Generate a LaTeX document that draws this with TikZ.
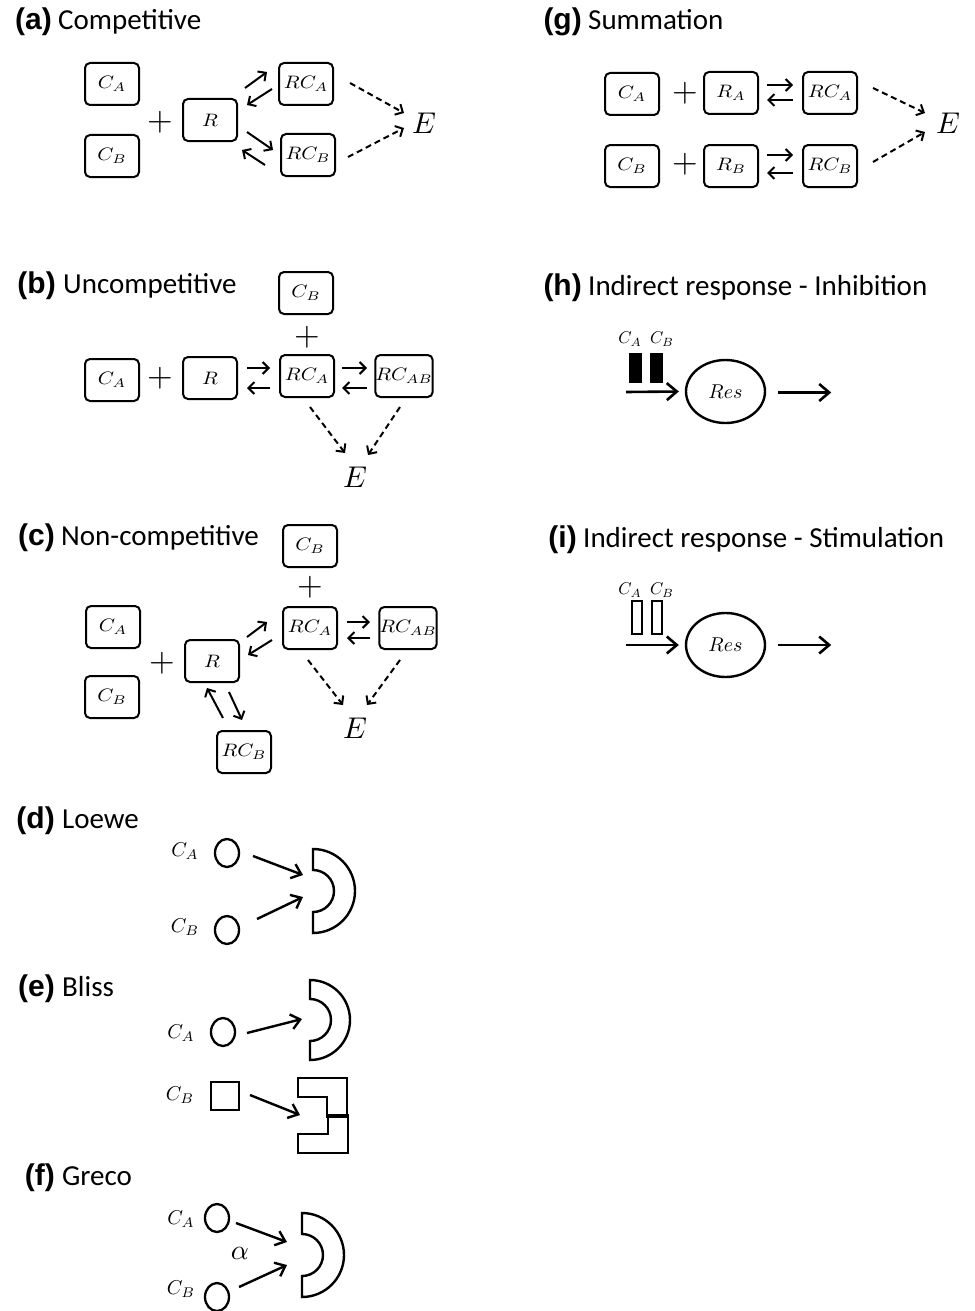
\documentclass[tikz,border=0pt]{standalone}
\usepackage{fontspec}
\setmainfont{Carlito}
\newfontfamily\labfont{Liberation Sans}
\usetikzlibrary{arrows.meta,calc,shapes.geometric}
\newcommand\bx[1]{\scalebox{2.07}[1.8]{$#1$}}
\newcommand\mth[2]{\scalebox{#1}{$#2$}}
\begin{document}
\begin{tikzpicture}[x=1pt,y=-1pt,
  box/.style={draw,rounded corners=5pt,line width=2pt,minimum width=54pt,minimum height=42pt,inner sep=0pt},
  ttl/.style={anchor=base west,inner sep=0pt,font=\fontsize{29}{29}\selectfont},
  lbl/.style={anchor=base east,inner sep=0pt,font=\fontsize{30}{30}\selectfont\labfont\bfseries},
  pl/.style={inner sep=0pt},
  ee/.style={inner sep=0pt},
  ar/.style={line width=2pt,-{Straight Barb[length=6pt,width=12pt]}},
  dar/.style={ar,dash pattern=on 6pt off 4pt},
  arB/.style={line width=2.4pt,-{Straight Barb[length=9pt,width=15pt]}},
  arC/.style={line width=2.6pt,-{Straight Barb[length=10pt,width=17pt]}},
  shp/.style={line width=2.4pt},
  circ/.style={draw,ellipse,minimum width=24pt,minimum height=28pt,inner sep=0pt,line width=2.3pt},
  cl/.style={inner sep=0pt},
  sl/.style={inner sep=0pt},
]
\useasboundingbox (0,0) rectangle (974,1311);

% ---------- titles ----------
\node[ttl] (ta) at (58,30) {Competitive};
\node[lbl] (la) at (52,30) {(a)};
\node[ttl] (tb) at (63,293) {Uncompetitive};
\node[lbl] (lb) at (56,293) {(b)};
\node[ttl] (tc) at (61,545) {Non-competitive};
\node[lbl] (lc) at (55,545) {(c)};
\node[ttl] (td) at (62,828) {Loewe};
\node[lbl] (ld) at (55,828) {(d)};
\node[ttl] (te) at (62,996) {Bliss};
\node[lbl] (le) at (55,996) {(e)};
\node[ttl] (tf) at (62,1185) {Greco};
\node[lbl] (lf) at (55,1185) {(f)};
\node[ttl] (tg) at (588,30) {Summation};
\node[lbl] (lg) at (582,30) {(g)};
\node[ttl] (th) at (588,295) {Indirect response - Inhibition};
\node[lbl] (lh) at (582,295) {(h)};
\node[ttl] (ti) at (583,547) {Indirect response - Stimulation};
\node[lbl] (li) at (577,547) {(i)};

% ---------- (a) ----------
\node[box] (aCA) at (112,84) {\bx{C_A}};
\node[box] (aCB) at (112,156) {\bx{C_B}};
\node[pl] (aP) at (160,122) {\mth{3.3}{+}};
\node[box] (aR) at (210,120) {\bx{R}};
\node[box] (aRCA) at (306,84) {\bx{RC_A}};
\node[box] (aRCB) at (308,155) {\bx{RC_B}};
\node[ee] (aE) at (424,123) {\mth{3}{E}};
\draw[ar] ($(aR)+(35,-32)$) -- ($(aRCA)+(-39,-12)$);
\draw[ar] ($(aRCA)+(-34,5)$) -- ($(aR)+(37,-15)$);
\draw[ar] ($(aR)+(37,12)$) -- ($(aRCB)+(-35,-5)$);
\draw[ar] ($(aRCB)+(-43,10)$) -- ($(aR)+(32,30)$);
\draw[dar] ($(aRCA)+(44,-1)$) -- ($(aE)+(-20,-10)$);
\draw[dar] ($(aRCB)+(40,2)$) -- ($(aE)+(-20,5)$);

% ---------- (b) ----------
\node[box] (bCB) at (306,293) {\bx{C_B}};
\node[pl] (bP2) at (307,337) {\mth{3.3}{+}};
\node[box] (bCA) at (112,380) {\bx{C_A}};
\node[pl] (bP) at (160,378) {\mth{3.3}{+}};
\node[box] (bR) at (210,378) {\bx{R}};
\node[box] (bRCA) at (307,376) {\bx{RC_A}};
\node[box] (bRCAB) at (404,376) {\bx{RC_{AB}}};
\node[ee] (bE) at (355,477) {\mth{3}{E}};
\draw[ar] ($(bR)+(37,-10)$) -- ($(bRCA)+(-37,-8)$);
\draw[ar] ($(bRCA)+(-37,12)$) -- ($(bR)+(37,10)$);
\draw[ar] ($(bRCA)+(35,-8)$) -- ($(bRCAB)+(-37,-8)$);
\draw[ar] ($(bRCAB)+(-37,12)$) -- ($(bRCA)+(35,12)$);
\draw[dar] ($(bRCA)+(3,31)$) -- ($(bE)+(-10,-24)$);
\draw[dar] ($(bRCAB)+(-4,31)$) -- ($(bE)+(13,-22)$);

% ---------- (c) ----------
\node[box] (cCB2) at (310,546) {\bx{C_B}};
\node[pl] (cP2) at (310,587) {\mth{3.3}{+}};
\node[box] (cCA) at (113,627) {\bx{C_A}};
\node[box] (cCB) at (112,697) {\bx{C_B}};
\node[pl] (cP) at (162,663) {\mth{3.3}{+}};
\node[box] (cR) at (212,661) {\bx{R}};
\node[box] (cRCA) at (310,628) {\bx{RC_A}};
\node[box] (cRCAB) at (408,628) {\bx{RC_{AB}}};
\node[box] (cRCB) at (244,752) {\bx{RC_B}};
\node[ee] (cE) at (355,728) {\mth{3}{E}};
\draw[ar] ($(cR)+(35,-24)$) -- ($(cRCA)+(-43,-6)$);
\draw[ar] ($(cRCA)+(-38,12)$) -- ($(cR)+(36,-6)$);
\draw[ar] ($(cRCB)+(-21,-34)$) -- ($(cR)+(-5,27)$);
\draw[ar] ($(cR)+(17,31)$) -- ($(cRCB)+(-2,-32)$);
\draw[ar] ($(cRCA)+(37,-6)$) -- ($(cRCAB)+(-38,-6)$);
\draw[ar] ($(cRCAB)+(-38,10)$) -- ($(cRCA)+(37,10)$);
\draw[dar] ($(cRCA)+(-2,32)$) -- ($(cE)+(-12,-23)$);
\draw[dar] ($(cRCAB)+(-8,32)$) -- ($(cE)+(12,-23)$);

% ---------- (d) ----------
\node[cl] (dlA) at (185,851) {\mth{2}{C_A}};
\node[cl] (dlB) at (185,927) {\mth{2}{C_B}};
\node[circ] (dCA) at (227,853) {};
\node[circ] (dCB) at (227,930) {};
\coordinate (dD) at (313,891);
\draw[shp] (313,849) arc[start angle=90,end angle=-90,radius=42pt] -- ++(0,-21) arc[start angle=-90,end angle=90,radius=21pt] -- cycle;
\draw[arB] ($(dCA)+(26,3)$) -- ($(dD)+(-10,-16)$);
\draw[arB] ($(dCB)+(30,-11)$) -- ($(dD)+(-10,6)$);

% ---------- (e) ----------
\node[cl] (elA) at (181,1033) {\mth{2}{C_A}};
\node[cl] (elB) at (180,1095) {\mth{2}{C_B}};
\node[circ] (eCA) at (223,1032) {};
\node[draw,minimum size=28pt,inner sep=0pt,line width=2.3pt] (eSQ) at (225,1096) {};
\coordinate (eD) at (310,1020);
\coordinate (eL) at (323,1115);
\draw[shp] (310,980) arc[start angle=90,end angle=-90,radius=40pt] -- ++(0,-19) arc[start angle=-90,end angle=90,radius=21pt] -- cycle;
\draw[shp] (298,1078) -- (347,1078) -- (347,1117) -- (327,1117) -- (327,1097) -- (298,1097) -- cycle;
\draw[shp] (328,1115) -- (348,1115) -- (348,1153) -- (298,1153) -- (298,1134) -- (328,1134) -- cycle;
\draw[arB] ($(eCA)+(24,1)$) -- ($(eD)+(-8,-1)$);
\draw[arB] ($(eSQ)+(25,-1)$) -- ($(eL)+(-23,0)$);

% ---------- (f) ----------
\node[cl] (flA) at (181,1219) {\mth{2}{C_A}};
\node[cl] (flB) at (181,1289) {\mth{2}{C_B}};
\node[circ] (fCA) at (217,1218) {};
\node[circ] (fCB) at (217,1297) {};
\node[inner sep=0pt] (fal) at (240,1253) {\mth{2.8}{\alpha}};
\coordinate (fD) at (302,1255);
\draw[shp] (302,1213) arc[start angle=90,end angle=-90,radius=42pt] -- ++(0,-21) arc[start angle=-90,end angle=90,radius=21pt] -- cycle;
\draw[arB] ($(fCA)+(19,5)$) -- ($(fD)+(-15,-13)$);
\draw[arB] ($(fCB)+(22,-10)$) -- ($(fD)+(-15,10)$);

% ---------- (g) ----------
\node[box] (gCA) at (632,94) {\bx{C_A}};
\node[pl] (gPA) at (685,93) {\mth{3.3}{+}};
\node[box] (gRA) at (731,93) {\bx{R_A}};
\node[box] (gRCA) at (830,93) {\bx{RC_A}};
\node[box] (gCB) at (632,166) {\bx{C_B}};
\node[pl] (gPB) at (685,164) {\mth{3.3}{+}};
\node[box] (gRB) at (731,166) {\bx{R_B}};
\node[box] (gRCB) at (830,166) {\bx{RC_B}};
\node[ee] (gE) at (948,123) {\mth{3}{E}};
\draw[ar] ($(gRA)+(36,-8)$) -- ($(gRCA)+(-37,-8)$);
\draw[ar] ($(gRCA)+(-37,7)$) -- ($(gRA)+(36,7)$);
\draw[ar] ($(gRB)+(36,-11)$) -- ($(gRCB)+(-37,-11)$);
\draw[ar] ($(gRCB)+(-37,7)$) -- ($(gRB)+(36,7)$);
\draw[dar] ($(gRCA)+(43,-5)$) -- ($(gE)+(-23,-10)$);
\draw[dar] ($(gRCB)+(43,-4)$) -- ($(gE)+(-23,9)$);

% ---------- (h) ----------
\node[sl] (hlA) at (630,339) {\mth{1.7}{C_A}};
\node[sl] (hlB) at (662,339) {\mth{1.7}{C_B}};
\fill (629,353) rectangle (642,383);
\fill (650,353) rectangle (663,383);
\node[draw,ellipse,minimum width=79pt,minimum height=63pt,inner sep=0pt,line width=2.4pt] (hRes) at (725.5,391.5) {\mth{2}{Res}};
\coordinate (hIn) at (626,392);
\draw[arC] (hIn) -- ($(hRes.west)+(-6,0)$);
\draw[arC] ($(hRes.east)+(12,1)$) -- ++(53,0);

% ---------- (i) ----------
\node[sl] (ilA) at (630,590) {\mth{1.7}{C_A}};
\node[sl] (ilB) at (662,590) {\mth{1.7}{C_B}};
\draw[line width=2pt] (632,601) rectangle (642,634);
\draw[line width=2pt] (652,601) rectangle (662,634);
\node[draw,ellipse,minimum width=79pt,minimum height=64pt,inner sep=0pt,line width=2.4pt] (iRes) at (725.5,645) {\mth{2}{Res}};
\coordinate (iIn) at (626,645);
\draw[arC] (iIn) -- ($(iRes.west)+(-6,0)$);
\draw[arC] ($(iRes.east)+(12,0)$) -- ++(53,0);
\end{tikzpicture}
\end{document}
